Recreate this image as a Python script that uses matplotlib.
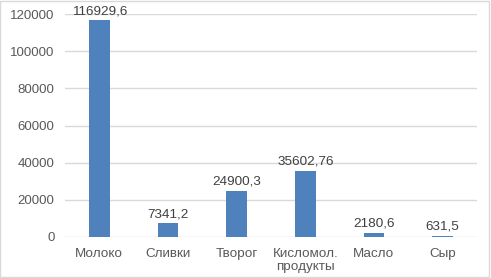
import matplotlib.pyplot as plt
from matplotlib.patches import Rectangle

plt.rcParams['font.family'] = ['Liberation Sans', 'DejaVu Sans']

categories = ['Молоко', 'Сливки', 'Творог', 'Кисломол.\nпродукты', 'Масло', 'Сыр']
values = [116929.6, 7341.2, 24900.3, 35602.76, 2180.6, 631.5]
value_labels = ['116929,6', '7341,2', '24900,3', '35602,76', '2180,6', '631,5']
yticks = [0, 20000, 40000, 60000, 80000, 100000, 120000]

fig = plt.figure(figsize=(4.91, 2.78), dpi=100)
ax = fig.add_axes([65 / 491, 1 - 236.7 / 278, 412 / 491, 222.4 / 278])

x = range(len(categories))
bars = ax.bar(x, values, width=0.3, color='#4F81BD', zorder=3)

for b, lab in zip(bars, value_labels):
    ax.annotate(lab, (b.get_x() + b.get_width() / 2, b.get_height()),
                xytext=(0, 2), textcoords='offset points',
                ha='center', va='bottom', fontsize=9.7, color='#404040')

ax.set_xlim(-0.5, len(categories) - 0.5)
ax.set_ylim(0, 120000)
ax.set_yticks(yticks)
ax.set_yticklabels([str(t) for t in yticks])
ax.set_xticks(list(x))
ax.set_xticklabels(categories, linespacing=1.15)
ax.tick_params(axis='y', length=0, pad=7.5, labelsize=9.5, labelcolor='#595959')
ax.tick_params(axis='x', length=0, pad=8, labelsize=9.7, labelcolor='#595959')
ax.grid(axis='y', color='#D9D9D9', linewidth=1, zorder=0)
for s in ax.spines.values():
    s.set_visible(False)

# light frame around the chart area
fig.patches.append(Rectangle((0.001, 0.002), 0.995, 0.995, transform=fig.transFigure,
                             fill=False, edgecolor='#D9D9D9', linewidth=1))

fig.savefig('out.png', dpi=100)
